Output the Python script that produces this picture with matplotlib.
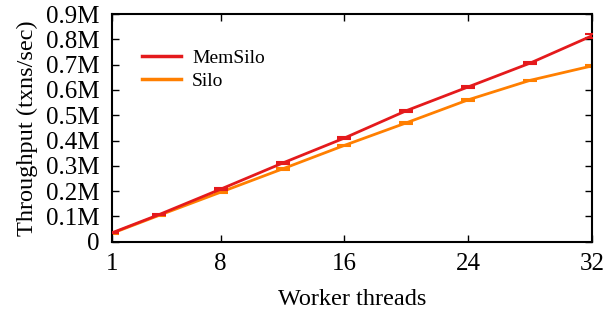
import matplotlib
matplotlib.use("Agg")

import matplotlib.pyplot as plt
import matplotlib.ticker as mticker
from matplotlib.lines import Line2D

# ── Data ───────────────────────────────────────────────────────────────────
THREADS = [1, 4, 8, 12, 16, 20, 24, 28, 32]
MEMSILO = [0.036, 0.107, 0.208, 0.311, 0.410, 0.518, 0.612, 0.706, 0.814]
SILO    = [0.034, 0.104, 0.196, 0.288, 0.381, 0.470, 0.561, 0.638, 0.695]
MEMSILO_ERR = [0.003, 0.003, 0.004, 0.004, 0.004, 0.004, 0.004, 0.004, 0.008]
SILO_ERR    = [0.002, 0.003, 0.003, 0.003, 0.003, 0.003, 0.003, 0.003, 0.003]

RED = "#e41a1c"
ORANGE = "#ff7f00"

plt.rcParams["font.family"] = ["Liberation Serif", "DejaVu Serif"]

fig, ax = plt.subplots(figsize=(6.04, 3.12), dpi=100)
fig.subplots_adjust(left=0.186, right=0.980, top=0.955, bottom=0.225)

ax.errorbar(THREADS, MEMSILO, yerr=MEMSILO_ERR, color=RED, lw=2,
            capsize=5, capthick=1.5, elinewidth=1.5, zorder=3)
ax.errorbar(THREADS, SILO, yerr=SILO_ERR, color=ORANGE, lw=2,
            capsize=5, capthick=1.5, elinewidth=1.5, zorder=2)

ax.set_xlim(1, 32)
ax.set_ylim(0, 0.9)
ax.set_xticks([1, 8, 16, 24, 32])
ax.set_yticks([i / 10 for i in range(10)])
ax.yaxis.set_major_formatter(
    mticker.FuncFormatter(lambda v, _: "0" if v == 0 else f"{v:.1f}M"))

for s in ax.spines.values():
    s.set_linewidth(1.5)
ax.tick_params(direction="in", top=True, right=True, length=5, width=1,
               labelsize=18)
ax.tick_params(axis="y", pad=9)
ax.tick_params(axis="x", pad=8)

ax.set_xlabel("Worker threads", fontsize=17.5, labelpad=10)
ax.set_ylabel("Throughput (txns/sec)", fontsize=17.5, labelpad=6)

handles = [Line2D([], [], color=RED, lw=2.5),
           Line2D([], [], color=ORANGE, lw=2.5)]
ax.legend(handles, ["MemSilo", "Silo"], loc="upper left", frameon=False,
          fontsize=14, handlelength=2.0, handletextpad=0.57,
          bbox_to_anchor=(0.046, 0.88), borderaxespad=0, labelspacing=0.3)

fig.savefig("out.png", dpi=100)
